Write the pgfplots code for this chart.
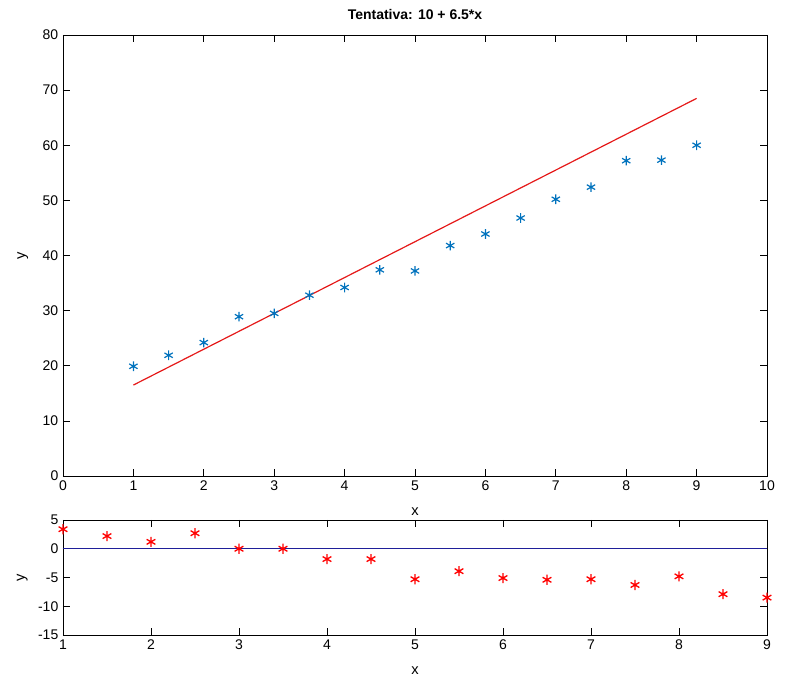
\documentclass[border=0pt]{standalone}
\usepackage{pgfplots}
\pgfplotsset{compat=1.18}
\usepackage{fontspec}
\setmainfont{Liberation Sans}
\definecolor{mblue}{rgb}{0,0.447,0.741}
\definecolor{mred}{rgb}{0.9,0.1,0.1}
\definecolor{lineblue}{rgb}{0.12,0.12,0.6}

\pgfplotstableread{
x y
1 19.9
1.5 21.9
2 24.2
2.5 28.9
3 29.5
3.5 32.8
4 34.2
4.5 37.4
5 37.2
5.5 41.8
6 43.9
6.5 46.8
7 50.2
7.5 52.4
8 57.2
8.5 57.3
9 60.0
}\datatab

\pgfplotstableread{
x r
1 3.4
1.5 2.2
2 1.2
2.5 2.7
3 0.0
3.5 0.0
4 -1.8
4.5 -1.8
5 -5.3
5.5 -3.9
6 -5.1
6.5 -5.4
7 -5.3
7.5 -6.3
8 -4.8
8.5 -7.9
9 -8.5
}\restab

\begin{document}
\fontsize{10}{12}\selectfont
\begin{tikzpicture}
\useasboundingbox (-47.25pt,-153.75pt) rectangle (543.75pt,357pt);
\pgfplotsset{
  every axis/.append style={
    scale only axis,
    width=528pt,
    /pgf/number format/assume math mode=true,
    tick style={black, line width=0.5pt},
    major tick length=5pt,
    axis line style={black, line width=0.6pt},
    ticklabel style={font=\fontsize{10.5}{12}\selectfont},
    label style={font=\fontsize{11}{13}\selectfont},
  }
}
\begin{axis}[
  name=top,
  at={(0,0)}, anchor=south west,
  height=330.75pt,
  xmin=0, xmax=10, ymin=0, ymax=80,
  xtick={0,1,...,10}, ytick={0,10,...,80},
  xlabel={x}, ylabel={y},
  xlabel style={yshift=-6pt},
  ylabel style={yshift=4pt},
  title={\textbf{Tentativa: 10 + 6.5*x}},
  title style={font=\fontsize{10.5}{12}\selectfont, yshift=2pt},
]
\addplot[only marks, mark=asterisk, mark size=3.6pt, color=mblue, line width=0.9pt] table[x=x,y=y] {\datatab};
\addplot[mred, line width=0.9pt] coordinates {(1,16.5) (9,68.5)};
\end{axis}
\begin{axis}[
  name=bot,
  at={(0,-33pt)}, anchor=north west,
  height=86.25pt,
  xmin=1, xmax=9, ymin=-15, ymax=5,
  xtick={1,...,9}, ytick={-15,-10,...,5},
  xlabel={x}, ylabel={y},
  xlabel style={yshift=-6pt},
  ylabel style={yshift=1pt},
  clip=false,
]
\addplot[lineblue, line width=0.9pt] coordinates {(1,0) (9,0)};
\addplot[only marks, mark=asterisk, mark size=3.8pt, color=red, line width=1pt] table[x=x,y=r] {\restab};
\end{axis}
\end{tikzpicture}
\end{document}
